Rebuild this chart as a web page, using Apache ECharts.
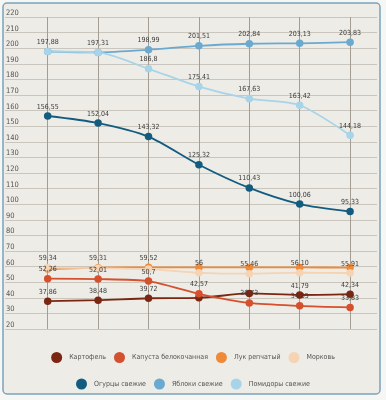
<!DOCTYPE html>
<html><head><meta charset="utf-8">
<script src="https://cdn.jsdelivr.net/npm/echarts@6/dist/echarts.min.js"></script>
<style>html,body{margin:0;padding:0;background:#f6f6f4;}#c{width:386px;height:400px;}</style>
</head><body><div id="c"></div>
<script>
const categories = ['1','2','3','4','5','6','7'];
const yTicks = {min: 20, max: 220, step: 10};
const potato   = [37.86, 38.48, 39.72, 40.0, 42.8, 41.79, 42.34];
const cabbage  = [52.26, 52.01, 50.7, 42.57, 36.73, 34.85, 33.83];
const onion    = [58.4, 59.31, 59.52, 59.5, 59.45, 59.45, 59.4];
const carrot   = [59.34, 59.0, 58.4, 56, 55.46, '56.10', 55.91];
const cucumber = [156.55, 152.04, 143.32, 125.32, 110.43, 100.06, 95.33];
const apple    = [197.88, 197.31, 198.99, 201.51, 202.84, 203.13, 203.83];
const tomato   = [197.88, 197.31, 186.8, 175.41, 167.63, 163.42, 144.18];
const names = ['Картофель','Капуста белокочанная','Лук репчатый','Морковь','Огурцы свежие','Яблоки свежие','Помидоры свежие'];
const values = [potato, cabbage, onion, carrot, cucumber, apple, tomato];
const colors = ['#7b2612','#d5502c','#f08a36','#f5d3b3','#125c80','#6aa9d0','#a7d4e8'];
// which points show a value label (others are hidden by overlap in the original)
const shown = [[0,1,2,5,6],[0,1,2,3,4,5,6],[1,2],[0,3,4,5,6],[0,1,2,3,4,5,6],[0,1,2,3,4,5,6],[2,3,4,5,6]];
const FONT = "'DejaVu Sans Condensed','Liberation Sans Narrow',sans-serif";

const chart = echarts.init(document.getElementById('c'), null, {renderer:'canvas'});
const series = names.map((n,i)=>({
  name:n, type:'line', xAxisIndex:1, yAxisIndex:1, data:values[i],
  smooth:0.25, symbol:'circle', symbolSize:7.5, showAllSymbol:true,
  lineStyle:{width:1.8, color:colors[i]}, itemStyle:{color:colors[i]},
  label:{show:true, position:'top', distance:2, fontFamily:FONT, fontSize:7, color:'#3a3a3a',
    formatter:p=> shown[i].indexOf(p.dataIndex)>=0 ? String(p.data).replace('.',',') : ''},
  emphasis:{disabled:true}, animation:false
}));
const legendCommon = {icon:'circle', itemWidth:11, itemHeight:11, itemGap:8, padding:0,
  textStyle:{fontFamily:FONT, fontSize:7, color:'#555', padding:[0,0,0,2]}, selectedMode:false};
chart.setOption({
  backgroundColor:'#f6f6f4',
  animation:false,
  color:colors,
  graphic:[{type:'rect', z:-10, shape:{x:3,y:3,width:377,height:391,r:4},
    style:{fill:'#eeece7', stroke:'#79a3bb', lineWidth:1.5}}],
  grid:[{left:5,right:9,top:17,bottom:71},{left:47.7,right:35.9,top:17,bottom:71}],
  xAxis:[{type:'value', gridIndex:0, show:false, min:0, max:1},
    {type:'category', gridIndex:1, data:categories, boundaryGap:false,
     axisLine:{show:false}, axisTick:{show:false}, axisLabel:{show:false},
     splitLine:{show:true, lineStyle:{color:'#a39d94', width:1}}}],
  yAxis:[{type:'value', gridIndex:0, min:yTicks.min, max:yTicks.max, interval:yTicks.step,
     axisLine:{show:false}, axisTick:{show:false},
     axisLabel:{inside:true, margin:1, verticalAlign:'bottom', fontFamily:FONT, fontSize:7.5, color:'#555'},
     splitLine:{show:true, lineStyle:{color:'#cbc6bd', width:1}}},
    {type:'value', gridIndex:1, min:yTicks.min, max:yTicks.max, interval:yTicks.step, show:false, splitLine:{show:false}}],
  legend:[Object.assign({data:names.slice(0,4), left:'center', top:352}, legendCommon),
          Object.assign({data:names.slice(4), left:'center', top:378.5}, legendCommon)],
  series:series
});
</script></body></html>
